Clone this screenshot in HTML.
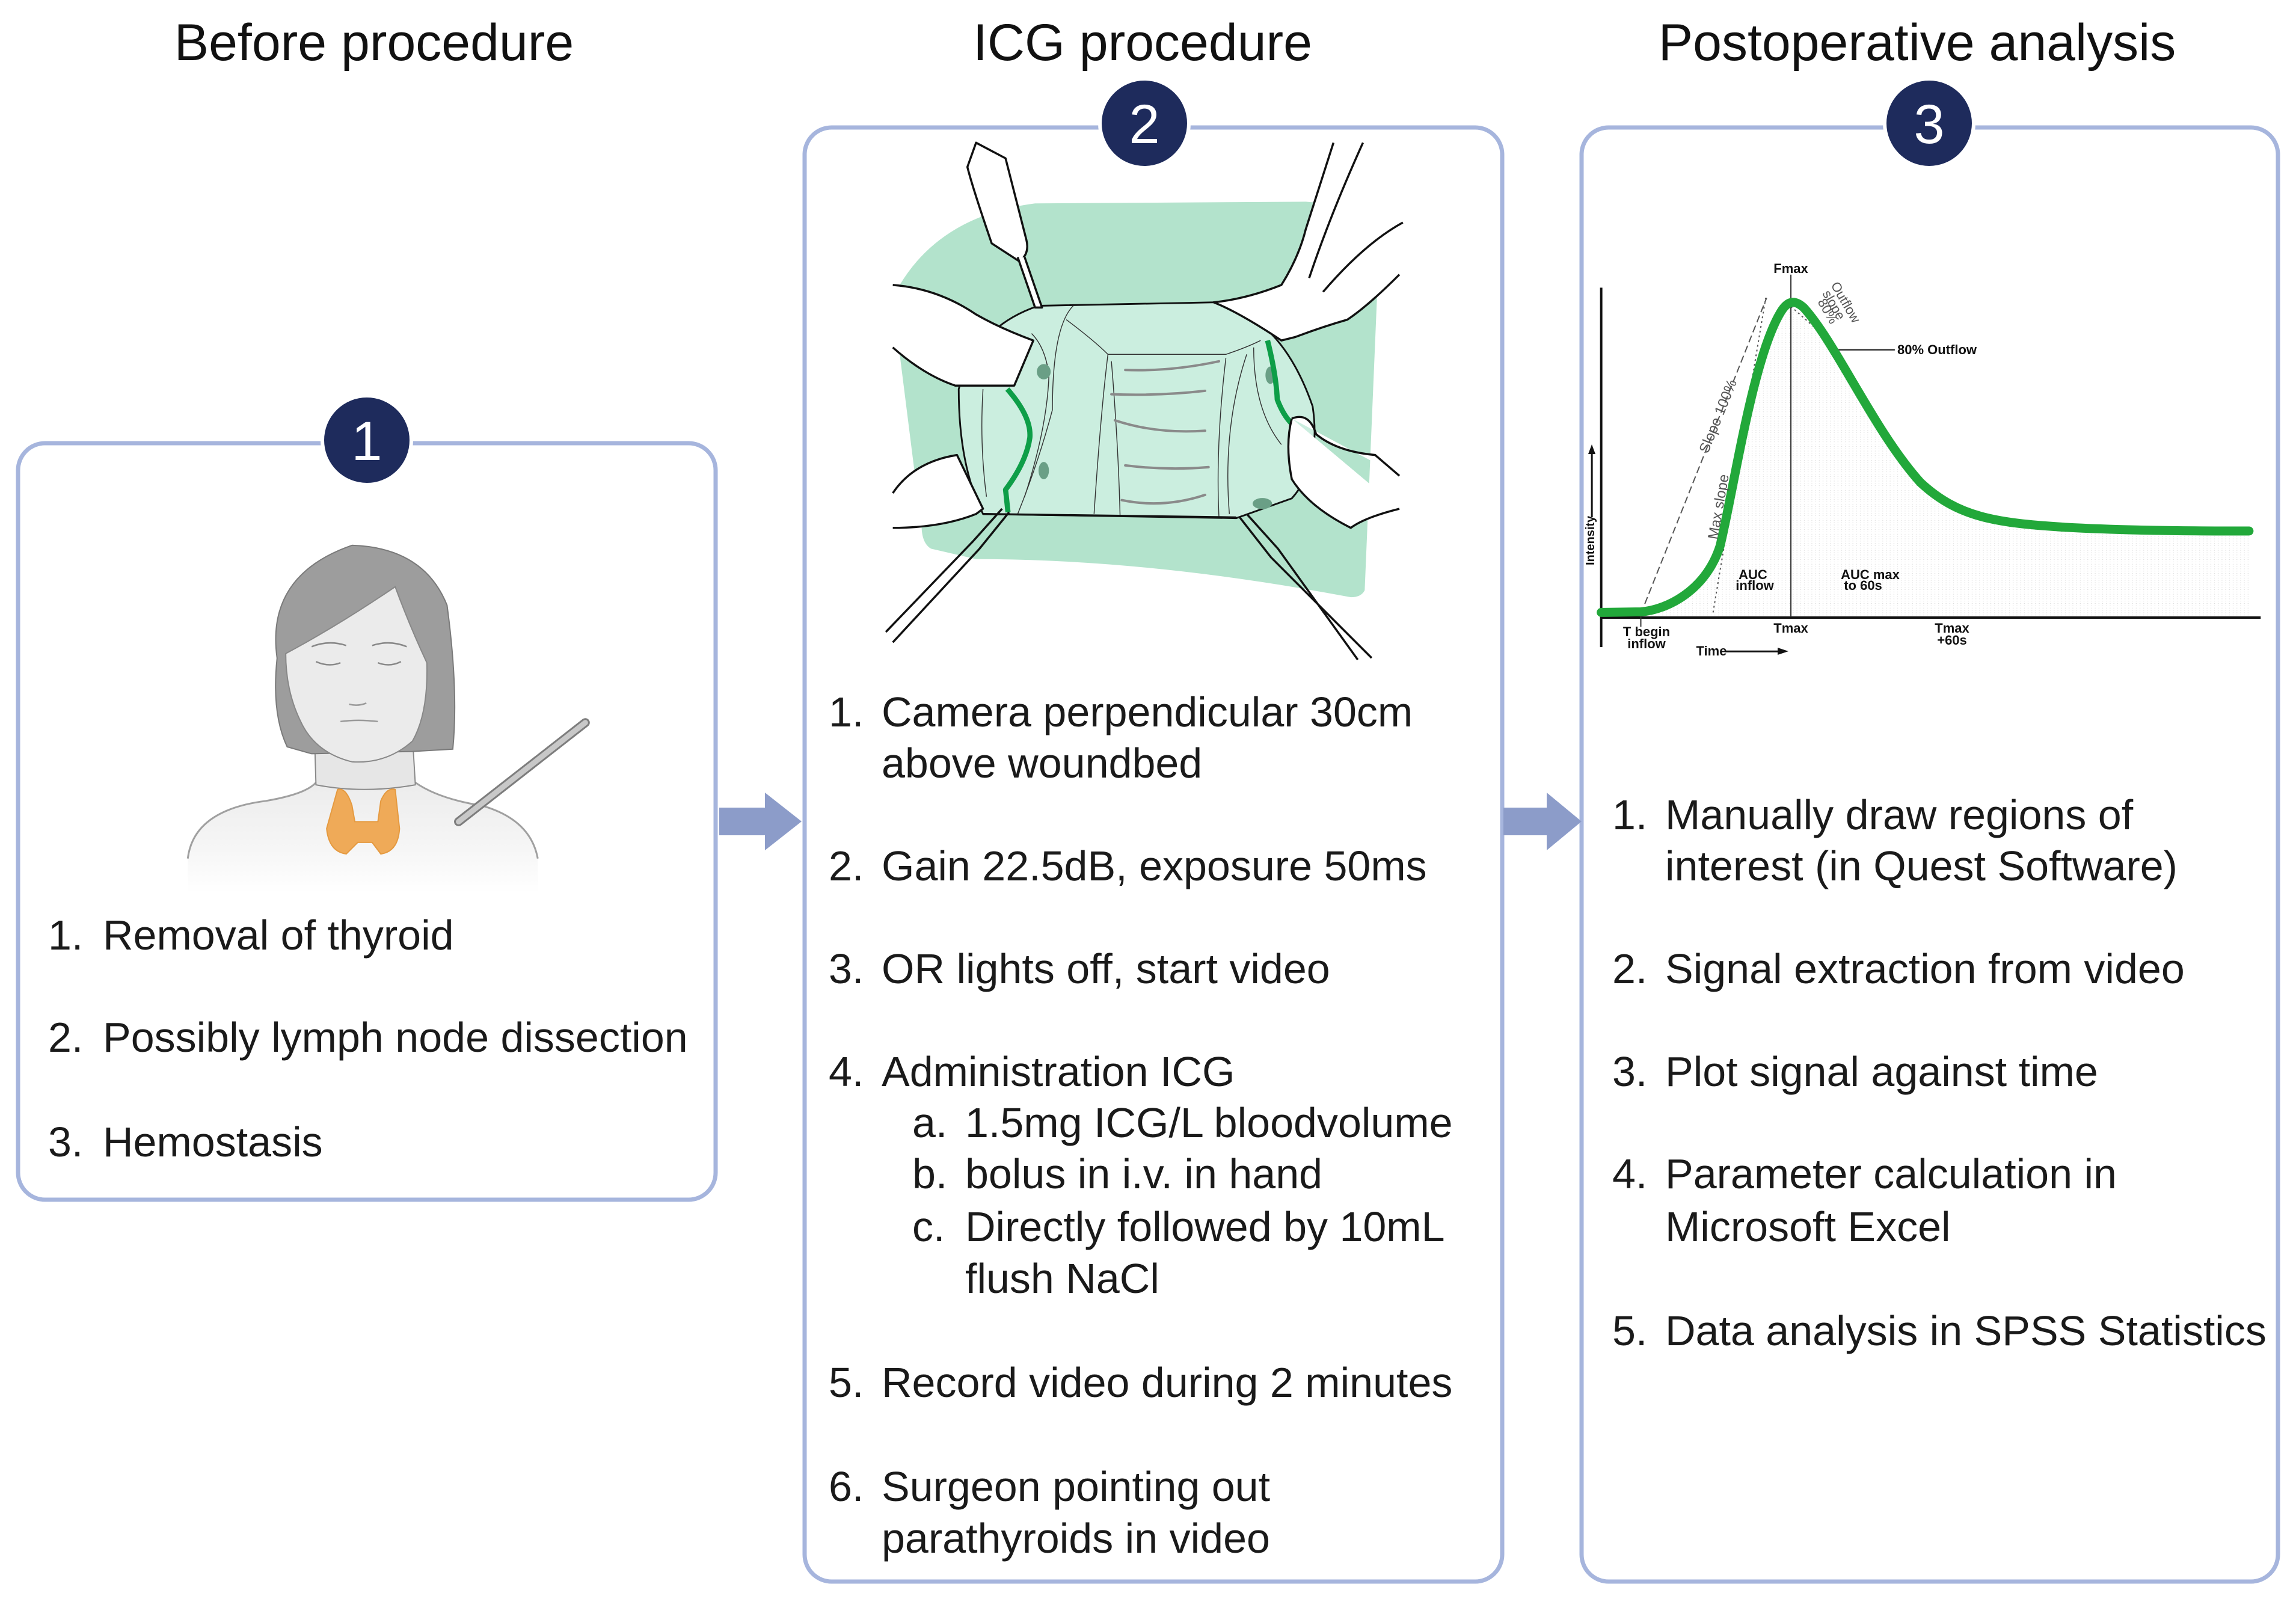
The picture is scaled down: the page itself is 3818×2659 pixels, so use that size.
<!DOCTYPE html>
<html><head><meta charset="utf-8"><style>
html,body{margin:0;padding:0;background:#fff;}
svg{display:block;}
text{font-family:"Liberation Sans",Arial,sans-serif;}
</style></head><body>
<svg width="3818" height="2659" viewBox="0 0 3818 2659" xmlns="http://www.w3.org/2000/svg">
<defs>
<linearGradient id="fade" x1="0" y1="0" x2="0" y2="1">
<stop offset="0" stop-color="#ececec"/><stop offset="0.6" stop-color="#f6f6f6"/><stop offset="1" stop-color="#ffffff"/>
</linearGradient>
<pattern id="dots" width="8" height="8" patternUnits="userSpaceOnUse"><circle cx="3" cy="3" r="1" fill="#d4d4d4"/></pattern>
</defs>

<text x="622" y="100" font-size="86" text-anchor="middle" fill="#111">Before procedure</text>
<text x="1900" y="100" font-size="86" text-anchor="middle" fill="#111">ICG procedure</text>
<text x="3188" y="100" font-size="86" text-anchor="middle" fill="#111">Postoperative analysis</text>

<rect x="30" y="737" width="1160" height="1258" rx="45" fill="#fff" stroke="#a6b5dd" stroke-width="7"/>
<rect x="1338" y="212" width="1160" height="2418" rx="45" fill="#fff" stroke="#a6b5dd" stroke-width="7"/>
<rect x="2630" y="212" width="1158" height="2418" rx="45" fill="#fff" stroke="#a6b5dd" stroke-width="7"/>

<path d="M1196,1343 L1272,1343 L1272,1318 L1333,1366 L1272,1414 L1272,1389 L1196,1389 Z" fill="#8c9cc9"/>
<path d="M2500,1343 L2572,1343 L2572,1318 L2630,1366 L2572,1414 L2572,1389 L2500,1389 Z" fill="#8c9cc9"/>

<g font-size="92" fill="#fff" text-anchor="middle">
<circle cx="610" cy="732" r="74" fill="#1e2b5c" stroke="#fff" stroke-width="6"/>
<text x="610" y="765">1</text>
<circle cx="1903" cy="205" r="74" fill="#1e2b5c" stroke="#fff" stroke-width="6"/>
<text x="1903" y="238">2</text>
<circle cx="3208" cy="205" r="74" fill="#1e2b5c" stroke="#fff" stroke-width="6"/>
<text x="3208" y="238">3</text>
</g>

<!-- woman -->
<g transform="translate(250,880) scale(0.479,0.383)">
<path d="M130,1430 Q150,1220 400,1180 Q540,1150 575,1100 L920,1100 Q1000,1170 1150,1200 Q1320,1260 1345,1430 L1345,1580 L130,1580 Z" fill="url(#fade)"/>
<path d="M130,1430 Q150,1220 400,1180 Q540,1150 575,1100 M920,1100 Q1000,1170 1150,1200 Q1320,1260 1345,1430" stroke="#a0a0a0" stroke-width="3" fill="none" vector-effect="non-scaling-stroke"/>
<path d="M570,900 L575,1110 Q740,1150 920,1110 L910,900 Z" fill="#e6e6e6" stroke="#8a8a8a" stroke-width="2" vector-effect="non-scaling-stroke"/>
<path d="M440,560 Q400,200 700,70 Q950,80 1030,330 Q1070,700 1050,955 L910,965 L560,975 L475,945 Q420,800 440,560 Z" fill="#9d9d9d" stroke="#7a7a7a" stroke-width="2" vector-effect="non-scaling-stroke"/>
<path d="M470,540 Q650,420 850,250 Q900,420 960,580 Q965,800 910,920 Q820,1020 700,1010 Q570,970 520,830 Q470,700 470,540 Z" fill="#ebebeb" stroke="#888" stroke-width="2" vector-effect="non-scaling-stroke"/>
<path d="M575,575 Q620,600 660,580 M790,580 Q830,600 870,575 M560,510 Q620,480 680,505 M770,505 Q830,480 890,510" stroke="#888" stroke-width="2.5" fill="none" vector-effect="non-scaling-stroke"/>
<path d="M690,760 Q720,770 750,755 M660,835 Q720,825 790,835" stroke="#999" stroke-width="2.5" fill="none" vector-effect="non-scaling-stroke"/>
<path d="M650,1130 Q680,1120 700,1200 L710,1270 L790,1270 L800,1180 Q820,1120 850,1130 L865,1300 Q860,1400 800,1410 L770,1360 L720,1360 L680,1410 Q620,1400 612,1300 Z" fill="#efaa58" stroke="#e59a40" stroke-width="2" vector-effect="non-scaling-stroke"/>
<path d="M1510,840 L1070,1270" stroke="#7d7d7d" stroke-width="15" stroke-linecap="round" vector-effect="non-scaling-stroke"/>
<path d="M1510,840 L1070,1270" stroke="#c8c8c8" stroke-width="9" stroke-linecap="round" vector-effect="non-scaling-stroke"/>
</g>

<!-- surgical field -->
<g transform="translate(1450,220) scale(0.577)" stroke-linejoin="round">
<path d="M80,440 Q200,240 470,205 L1250,200 Q1450,215 1462,320 L1420,1320 Q1410,1340 1380,1340 Q800,1230 300,1230 L170,1200 Q145,1185 143,1140 L80,640 Z" fill="#b3e3cc"/>
<path d="M250,740 Q300,560 480,500 L990,490 Q1180,530 1270,790 Q1295,960 1210,1055 L1050,1112 L320,1100 Q250,960 250,740 Z" fill="#cbeedf" stroke="#111" stroke-width="5"/>
<g stroke="#333" stroke-width="2.5" fill="none">
<path d="M580,500 Q520,560 520,800 Q480,950 420,1100"/>
<path d="M460,580 Q500,620 510,700 Q505,850 440,1050"/>
<path d="M560,540 Q640,600 680,640 L1020,640 Q1080,620 1120,600"/>
<path d="M680,640 Q660,800 640,1100 M690,660 Q710,900 715,1105 M1020,650 Q990,900 1000,1110 M1080,640 Q1010,850 1030,1100 M1100,620 Q1100,800 1180,900"/>
<path d="M320,740 Q310,900 330,1050"/>
</g>
<g stroke="#8a8a8a" stroke-width="7" fill="none" stroke-linecap="round">
<path d="M730,685 Q860,690 1000,660"/><path d="M690,755 Q830,760 960,745"/><path d="M700,830 Q820,870 960,860"/><path d="M730,960 Q850,975 970,965"/><path d="M720,1060 Q840,1085 960,1045"/>
</g>
<g fill="#6a9f86"><ellipse cx="495" cy="690" rx="20" ry="22"/><ellipse cx="495" cy="975" rx="15" ry="25"/><ellipse cx="1148" cy="700" rx="14" ry="25"/><ellipse cx="1125" cy="1070" rx="28" ry="16"/></g>
<path d="M390,740 Q460,820 455,880 Q445,950 385,1030 L392,1095" stroke="#0e9e48" stroke-width="15" fill="none"/>
<path d="M1140,600 Q1165,700 1168,770 Q1185,815 1210,840" stroke="#0e9e48" stroke-width="15" fill="none"/>
<g fill="#fff" stroke="#111" stroke-width="6">
<path d="M60,440 Q190,450 300,525 Q370,565 465,600 L410,730 L240,730 Q150,700 60,620"/>
<path d="M300,30 L385,75 L445,310 Q455,350 425,372 L345,320 Q290,160 275,100 Z"/>
<path d="M420,360 L470,505 L490,505 L440,360"/>
<path d="M1330,30 L1250,280 Q1230,360 1180,440 Q1080,480 985,490 Q1060,520 1180,600 L1220,590 Q1300,560 1370,540 Q1430,500 1520,410 M1530,260 Q1420,320 1300,460"/>
<path d="M1415,30 Q1320,240 1260,420" fill="none"/>
<path d="M60,1040 Q120,950 245,930 L320,1085 L300,1100 Q200,1140 60,1140"/>
<path d="M395,1095 L310,1200 L60,1470 M375,1085 L290,1180 L40,1440" fill="none"/>
<path d="M1210,825 Q1260,805 1280,870 Q1340,920 1450,930 L1520,990 M1520,1085 Q1420,1110 1380,1140 Q1260,1080 1210,1000 Q1190,900 1210,825"/>
<path d="M1060,1110 L1150,1225 L1440,1515 M1080,1100 L1170,1200 L1400,1520" fill="none"/>
</g>
<path d="M320,1100 L1050,1110" stroke="#111" stroke-width="6"/>
</g>

<!-- chart -->
<g transform="translate(2620,380) scale(0.775,0.48)">
<path d="M140,1328 C200,1320 280,1250 310,1100 C340,900 380,450 440,290 C455,250 470,245 490,275 C560,400 640,700 740,880 C820,1000 900,1020 1050,1035 C1200,1048 1350,1048 1445,1048 L1445,1345 L140,1345 Z" fill="url(#dots)"/>
<path d="M55,205 L55,1450 M55,1348 L1470,1348" stroke="#111" stroke-width="4" fill="none" vector-effect="non-scaling-stroke"/>
<path d="M462,160 L462,1345 M140,1330 L140,1380" stroke="#333" stroke-width="2" fill="none" vector-effect="non-scaling-stroke"/>
<path d="M140,1335 L410,240" stroke="#555" stroke-width="2" stroke-dasharray="12,6" fill="none" vector-effect="non-scaling-stroke"/>
<path d="M295,1330 L408,240" stroke="#555" stroke-width="2" stroke-dasharray="3,5" fill="none" vector-effect="non-scaling-stroke"/>
<path d="M462,270 L560,410" stroke="#555" stroke-width="2" stroke-dasharray="3,5" fill="none" vector-effect="non-scaling-stroke"/>
<path d="M550,420 L685,420" stroke="#333" stroke-width="2.5" vector-effect="non-scaling-stroke"/>
<path d="M55,1330 L140,1328 C200,1320 280,1250 310,1100 C340,900 380,450 440,290 C455,250 470,245 490,275 C560,400 640,700 740,880 C820,1000 900,1020 1050,1035 C1200,1048 1350,1048 1445,1048" stroke="#22a83a" stroke-width="15" fill="none" stroke-linecap="round" vector-effect="non-scaling-stroke"/>
<path d="M320,1465 L440,1465" stroke="#111" stroke-width="3" vector-effect="non-scaling-stroke"/>
<path d="M35,1000 L35,770" stroke="#111" stroke-width="3" vector-effect="non-scaling-stroke"/>
</g>
<path d="M2974,1083 L2956,1077 L2956,1089 Z" fill="#111"/>
<path d="M2647,739 L2641,755 L2653,755 Z" fill="#111"/>
<g font-size="22" fill="#111" font-weight="bold" text-anchor="middle">
<text x="2978" y="454">Fmax</text>
<text x="2978" y="1052">Tmax</text>
<text x="3246" y="1052">Tmax</text><text x="3246" y="1072">+60s</text>
<text x="2738" y="1058">T begin</text><text x="2738" y="1078">inflow</text>
<text x="2846" y="1090">Time</text>
<text x="2915" y="963">AUC</text><text x="2918" y="981">inflow</text>
<text x="3110" y="963">AUC max</text><text x="3098" y="981">to 60s</text>
</g>
<text x="3155" y="589" font-size="22" font-weight="bold" fill="#111">80% Outflow</text>
<text transform="translate(2651,940) rotate(-90)" font-size="20" fill="#111" font-weight="bold">Intensity</text>
<text transform="translate(2840,755) rotate(-68)" font-size="24" fill="#555">Slope 100%</text>
<text transform="translate(2856,898) rotate(-80)" font-size="24" fill="#555">Max slope</text>
<text transform="translate(3044,474) rotate(60)" font-size="22" fill="#555">Outflow</text>
<text transform="translate(3030,488) rotate(60)" font-size="22" fill="#555">slope</text>
<text transform="translate(3022,502) rotate(60)" font-size="22" fill="#555">80%</text>

<g font-size="70" fill="#1a1a1a">
<text x="80" y="1579">1.</text><text x="171" y="1579">Removal of thyroid</text>
<text x="80" y="1749">2.</text><text x="171" y="1749">Possibly lymph node dissection</text>
<text x="80" y="1923">3.</text><text x="171" y="1923">Hemostasis</text>

<text x="1378" y="1208">1.</text><text x="1466" y="1208">Camera perpendicular 30cm</text>
<text x="1466" y="1293">above woundbed</text>
<text x="1378" y="1464">2.</text><text x="1466" y="1464">Gain 22.5dB, exposure 50ms</text>
<text x="1378" y="1635">3.</text><text x="1466" y="1635">OR lights off, start video</text>
<text x="1378" y="1806">4.</text><text x="1466" y="1806">Administration ICG</text>
<text x="1517" y="1891">a.</text><text x="1605" y="1891">1.5mg ICG/L bloodvolume</text>
<text x="1517" y="1976">b.</text><text x="1605" y="1976">bolus in i.v. in hand</text>
<text x="1517" y="2064">c.</text><text x="1605" y="2064">Directly followed by 10mL</text>
<text x="1605" y="2150">flush NaCl</text>
<text x="1378" y="2323">5.</text><text x="1466" y="2323">Record video during 2 minutes</text>
<text x="1378" y="2496">6.</text><text x="1466" y="2496">Surgeon pointing out</text>
<text x="1466" y="2582">parathyroids in video</text>

<text x="2681" y="1379">1.</text><text x="2769" y="1379">Manually draw regions of</text>
<text x="2769" y="1464">interest (in Quest Software)</text>
<text x="2681" y="1635">2.</text><text x="2769" y="1635">Signal extraction from video</text>
<text x="2681" y="1806">3.</text><text x="2769" y="1806">Plot signal against time</text>
<text x="2681" y="1976">4.</text><text x="2769" y="1976">Parameter calculation in</text>
<text x="2769" y="2064">Microsoft Excel</text>
<text x="2681" y="2237">5.</text><text x="2769" y="2237">Data analysis in SPSS Statistics</text>
</g>
</svg>
</body></html>
